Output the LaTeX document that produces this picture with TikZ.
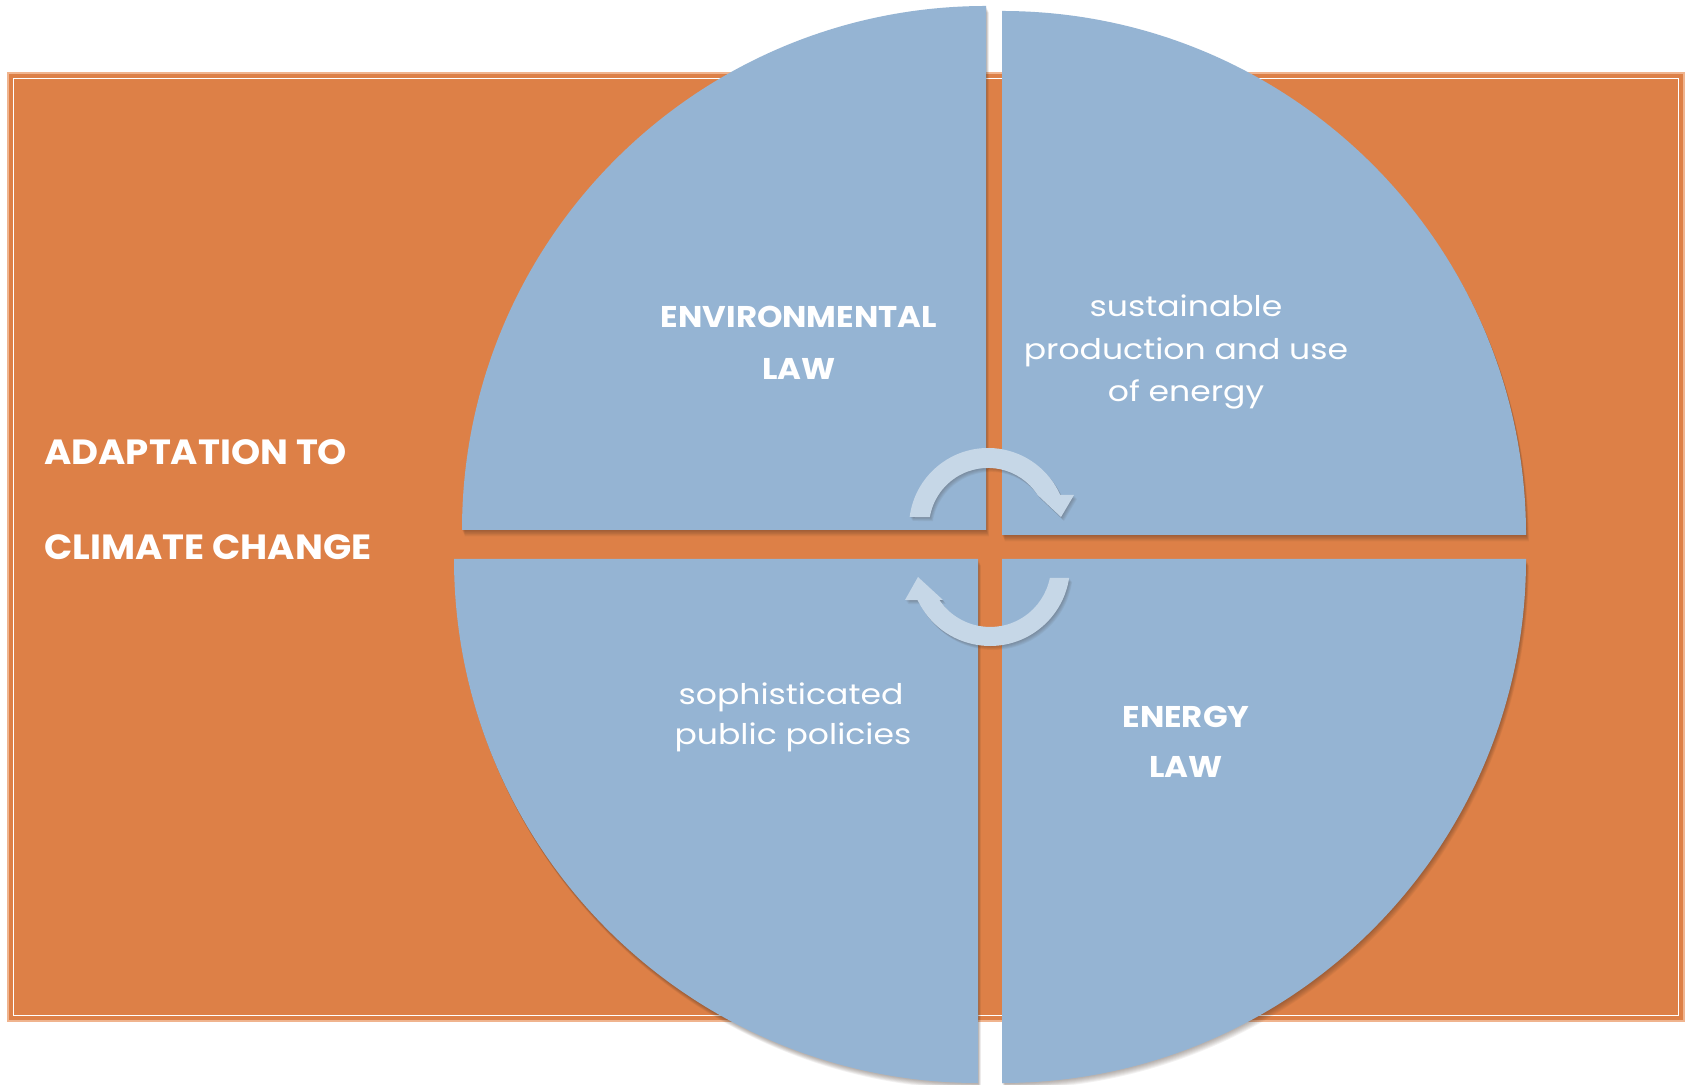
\documentclass[tikz,border=0pt]{standalone}
\usepackage{fontspec}
\setmainfont{Poppins}
\newfontfamily\regf[FakeStretch=1.16]{Poppins}
\newfontfamily\boldf[FakeStretch=1.08]{Poppins}
\newfontfamily\sidef[FakeStretch=1.06]{Poppins}
\definecolor{orng}{HTML}{DD8047}
\definecolor{orngedge}{HTML}{F0B48E}
\definecolor{qblue}{HTML}{95B4D3}
\definecolor{arw}{HTML}{C6D7E7}
\definecolor{shd}{HTML}{3A2A20}
\newcommand{\TLq}{(986,554) -- (462,554) arc[start angle=180, end angle=90, radius=524] -- cycle}
\newcommand{\TRq}{(1002,549) -- (1002,1073) arc[start angle=90, end angle=0, radius=524] -- cycle}
\newcommand{\BLq}{(978,525) -- (454,525) arc[start angle=180, end angle=270, radius=524] -- cycle}
\newcommand{\BRq}{(1002,525) -- (1526,525) arc[start angle=0, end angle=-90, radius=524] -- cycle}
\newcommand{\TopArw}{(988,557) ++(172.7:79) arc[start angle=172.7, end angle=24, radius=79] -- (1074,589) -- (1061,567) -- (1037.6,589) arc[start angle=32.8, end angle=170.4, radius=59] -- cycle}
\newcommand{\BotArw}{(990,518) ++(-8.6:80) arc[start angle=-8.6, end angle=-154.8, radius=80] -- (905,484) -- (918,507) -- (943,484) -- (939.4,484) arc[start angle=-146.1, end angle=-11.3, radius=61] -- cycle}
\tikzset{
  boldlbl/.style={text=white, font=\boldf\bfseries\fontsize{30}{36}\selectfont, inner sep=0pt, anchor=base},
  reglbl/.style={text=white, font=\regf\fontsize{28.5}{34}\selectfont, inner sep=0pt, anchor=base},
  sidelbl/.style={text=white, font=\sidef\bfseries\fontsize{35}{42}\selectfont, inner sep=0pt, anchor=base west},
}
\begin{document}
\begin{tikzpicture}[x=1pt,y=1pt]
\useasboundingbox (0,0) rectangle (1685,1084);
\fill[white] (0,0) rectangle (1685,1084);
% background frame
\fill[orng, draw=orngedge, line width=1.2pt] (8,63) rectangle (1684,1011);
\draw[white, line width=1.6pt] (13.5,68.5) rectangle (1678.5,1005.5);
% quarter shadows
\foreach \k in {1,...,7}{
  \fill[shd, opacity=0.06, shift={(0.4*\k,-0.9*\k)}] \TLq;
  \fill[shd, opacity=0.06, shift={(0.4*\k,-0.9*\k)}] \TRq;
  \fill[shd, opacity=0.06, shift={(0.4*\k,-0.9*\k)}] \BLq;
  \fill[shd, opacity=0.06, shift={(0.4*\k,-0.9*\k)}] \BRq;
}
\fill[qblue] \TLq;
\fill[qblue] \TRq;
\fill[qblue] \BLq;
\fill[qblue] \BRq;
% arrows
\foreach \k in {1,...,5}{
  \fill[shd, opacity=0.06, shift={(0.6*\k,-0.8*\k)}] \TopArw;
  \fill[shd, opacity=0.06, shift={(0.6*\k,-0.8*\k)}] \BotArw;
}
\fill[arw] \TopArw;
\fill[arw] \BotArw;
% labels
\node[sidelbl] (adapt) at (44,619) {ADAPTATION TO};
\node[sidelbl] (climate) at (44,524) {CLIMATE CHANGE};
\node[boldlbl] (env1) at (799,756) {ENVIRONMENTAL};
\node[boldlbl] (env2) at (799,704) {LAW};
\node[reglbl] (sus1) at (1186,767) {sustainable};
\node[reglbl] (sus2) at (1186,724) {production and use};
\node[reglbl] (sus3) at (1186,682) {of energy};
\node[reglbl] (soph1) at (791,379) {sophisticated};
\node[reglbl] (soph2) at (793,339) {public policies};
\node[boldlbl] (en1) at (1186,356) {ENERGY};
\node[boldlbl] (en2) at (1186,306) {LAW};
\end{tikzpicture}
\end{document}
